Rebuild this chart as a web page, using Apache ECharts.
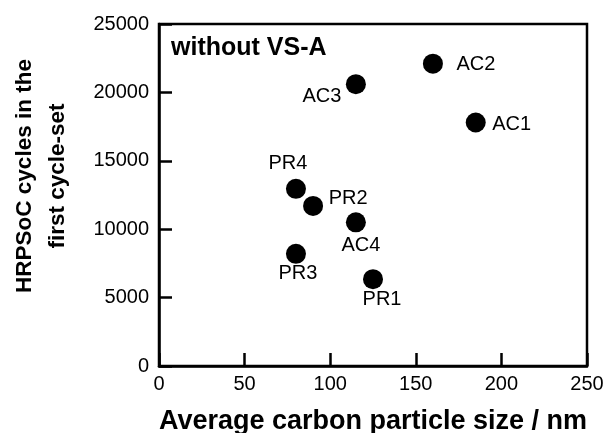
<!DOCTYPE html>
<html>
<head>
<meta charset="utf-8">
<script src="https://cdn.jsdelivr.net/npm/echarts@6/dist/echarts.min.js"></script>
<style>
html,body{margin:0;padding:0;background:#fff;}
#chart{width:608px;height:433px;}
</style>
</head>
<body>
<div id="chart"></div>
<script>
// Data
const names = ['AC1', 'AC2', 'AC3', 'AC4', 'PR1', 'PR2', 'PR3', 'PR4'];
const particleSize = [185, 160, 115, 115, 125, 90, 80, 80];
const cycles = [17800, 22100, 20600, 10500, 6350, 11700, 8200, 12950];
const xTicks = [0, 50, 100, 150, 200, 250];
const yTicks = [0, 5000, 10000, 15000, 20000, 25000];

// Label placement (text centre offset from marker centre, px)
const labelOffsets = {
  AC1: [36, 2], AC2: [43, 1], AC3: [-34, 12], AC4: [5, 23],
  PR1: [9, 20], PR2: [35, -7], PR3: [2, 20], PR4: [-8, -25]
};
const SYM = 20;

const seriesData = names.map((n, i) => ({
  name: n,
  value: [particleSize[i], cycles[i]],
  label: {
    position: [SYM / 2 + labelOffsets[n][0], SYM / 2 + labelOffsets[n][1]]
  }
}));

const font = '"Liberation Sans", Arial, Helvetica, sans-serif';
const chart = echarts.init(document.getElementById('chart'), null, {renderer: 'canvas'});
chart.setOption({
  backgroundColor: '#ffffff',
  animation: false,
  grid: {
    left: 159, right: 21, top: 24, bottom: 67,
    containLabel: false,
    outerBoundsMode: 'none',
    show: true, borderColor: '#000', borderWidth: 2.5, backgroundColor: 'transparent'
  },
  xAxis: {
    type: 'value',
    min: xTicks[0], max: xTicks[xTicks.length - 1], interval: xTicks[1] - xTicks[0],
    name: 'Average carbon particle size / nm',
    nameLocation: 'middle',
    nameGap: 42,
    nameTextStyle: {fontFamily: font, fontSize: 27, fontWeight: 'bold', color: '#000'},
    axisLine: {show: true, lineStyle: {color: '#000', width: 2.5}},
    axisTick: {show: true, inside: true, length: 13, lineStyle: {color: '#000', width: 2.5}},
    axisLabel: {fontFamily: font, fontSize: 20, color: '#000', margin: 8, formatter: v => String(v)},
    splitLine: {show: false}
  },
  yAxis: {
    type: 'value',
    min: yTicks[0], max: yTicks[yTicks.length - 1], interval: yTicks[1] - yTicks[0],
    axisLine: {show: true, lineStyle: {color: '#000', width: 2.5}},
    axisTick: {show: true, inside: true, length: 13, lineStyle: {color: '#000', width: 2.5}},
    axisLabel: {fontFamily: font, fontSize: 20, color: '#000', margin: 10, formatter: v => String(v)},
    splitLine: {show: false}
  },
  graphic: [
    {
      type: 'text',
      left: 171, top: 36,
      style: {text: 'without VS-A', font: 'bold 25px ' + font, fill: '#000'}
    },
    {
      type: 'text',
      x: 41, y: 176,
      rotation: Math.PI / 2,
      style: {
        text: 'HRPSoC cycles in the\nfirst cycle-set',
        font: 'bold 22.5px ' + font,
        fill: '#000',
        align: 'center',
        verticalAlign: 'middle',
        lineHeight: 33
      }
    }
  ],
  series: [{
    type: 'scatter',
    symbol: 'circle',
    symbolSize: SYM,
    itemStyle: {color: '#000', opacity: 1},
    label: {
      show: true,
      formatter: '{b}',
      align: 'center',
      verticalAlign: 'middle',
      fontFamily: font,
      fontSize: 20,
      color: '#000'
    },
    data: seriesData
  }]
});
</script>
</body>
</html>
